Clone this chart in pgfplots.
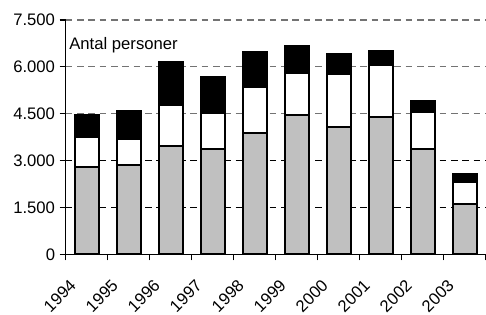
\documentclass[border=0pt]{standalone}
\usepackage{pgfplots}
\pgfplotsset{compat=1.18}
\usepackage{fontspec}
\setmainfont{Liberation Sans}
\definecolor{barg}{RGB}{192,192,192}
\begin{document}
\begin{tikzpicture}[font=\fontsize{12.5}{15}\selectfont]
\begin{axis}[
  at={(0,0)}, anchor=south west,
  width=315pt, height=175.7pt, scale only axis,
  xmin=-0.5, xmax=9.5, ymin=0, ymax=7500,
  ybar stacked, bar width=18pt,
  axis x line*=bottom, axis y line*=left,
  axis line style={-, line width=0.9pt},
  /pgf/number format/assume math mode=true,
  /pgf/number format/1000 sep={.},
  ytick={0,1500,3000},
  extra y ticks={4500,6000,7500},
  extra y tick style={grid style={dash pattern=on 5pt off 3.5pt, black!55, line width=0.8pt}},
  ymajorgrids,
  grid style={dash pattern=on 5pt off 3.5pt, black, line width=0.7pt},
  tick align=outside,
  major tick length=4.5pt,
  minor tick length=4.5pt,
  tick style={black, line width=0.8pt},
  xtick={0,...,9},
  xticklabels={1994,1995,1996,1997,1998,1999,2000,2001,2002,2003},
  every major x tick/.append style={draw=none},
  minor xtick={-0.5,0.5,...,9.5},
  xticklabel style={inner sep=0pt, xshift=-13.5pt, yshift=-13.5pt, rotate=45, anchor=north east},
  clip=false,
]
\addplot[fill=barg, draw=black, line width=1.3pt] coordinates {
(0,2800) (1,2850) (2,3470) (3,3370) (4,3890) (5,4450) (6,4085) (7,4385) (8,3380) (9,1600)};
\addplot[fill=white, draw=black, line width=1.3pt] coordinates {
(0,950) (1,840) (2,1300) (3,1140) (4,1475) (5,1365) (6,1675) (7,1665) (8,1175) (9,695)};
\addplot[fill=black, draw=black, line width=1.3pt] coordinates {
(0,700) (1,910) (2,1375) (3,1170) (4,1110) (5,855) (6,670) (7,470) (8,365) (9,265)};
\node[anchor=west, inner sep=0pt, xshift=2.5pt] at (rel axis cs:0,0.893) {Antal personer};
\end{axis}
\pgfresetboundingbox
\path (-49.3pt,-45.5pt) rectangle (315.2pt,190.7pt);
\end{tikzpicture}
\end{document}
